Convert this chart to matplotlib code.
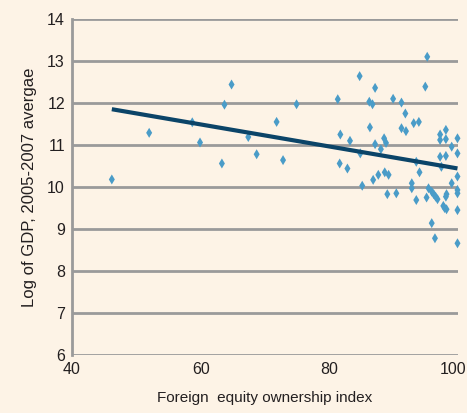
import numpy as np
import matplotlib.pyplot as plt
import matplotlib.transforms as mtransforms

# Foreign equity ownership index vs log GDP
ownership = [46.2, 52.0, 58.7, 59.9, 63.3, 63.7, 64.8, 67.4, 68.7,
             71.8, 72.8, 74.9, 81.3, 81.7, 81.6, 82.8, 83.2, 84.7, 84.8, 85.1,
             86.2, 86.7, 87.1, 86.3, 87.1, 88.0, 88.5, 88.8, 86.8, 87.6,
             88.6, 89.2, 89.0, 90.4, 89.9, 91.2, 91.8, 91.2, 91.9, 93.1,
             93.9, 94.9, 95.2, 93.5, 94.0, 92.8, 92.8, 93.5, 95.1, 95.4,
             95.9, 96.2, 96.5, 96.8, 97.2, 97.2, 97.2, 98.1, 98.1, 98.1,
             97.4, 99.0, 99.9, 99.9, 99.9, 99.0, 99.9, 99.9, 98.2, 98.1,
             97.7, 97.9, 95.9, 96.4, 99.9, 99.9, 98.2]
log_gdp = [10.18, 11.29, 11.54, 11.06, 10.56, 11.96, 12.44, 11.19, 10.78,
           11.55, 10.64, 11.97, 12.09, 11.25, 10.56, 10.44, 11.10, 12.64, 10.80, 10.03,
           12.03, 11.97, 12.36, 11.42, 11.02, 10.90, 11.16, 11.05, 10.17, 10.29,
           10.35, 10.29, 9.83, 9.85, 12.10, 12.01, 11.75, 11.40, 11.33, 11.52,
           11.55, 12.39, 13.10, 10.60, 10.35, 10.09, 9.97, 9.69, 9.75, 9.97,
           9.89, 9.83, 9.77, 9.71, 11.25, 11.12, 10.72, 11.36, 11.14, 10.74,
           10.48, 10.96, 11.16, 10.80, 10.25, 10.09, 9.93, 9.85, 9.83, 9.77,
           9.55, 9.50, 9.14, 8.78, 9.45, 8.66, 9.47]

x_ticks = [40, 60, 80, 100]
y_ticks = [6, 7, 8, 9, 10, 11, 12, 13, 14]

plt.rcParams['font.family'] = ['Liberation Sans', 'DejaVu Sans']

bg = '#fdf3e6'
fig = plt.figure(figsize=(4.67, 4.13), dpi=100, facecolor=bg)
ax = fig.add_axes([0.154, 0.1404, 0.827, 0.8136], facecolor=bg)

# grid lines
for yv in y_ticks:
    ax.axhline(yv, color='#9a9a9a', lw=2, zorder=1)

ax.scatter(ownership, log_gdp, marker='d', s=26, color='#4a9cc8',
           edgecolors='none', zorder=3, clip_on=False)

# regression line
coef = np.polyfit(ownership, log_gdp, 1)
fx = np.array([min(ownership), max(ownership)])
ax.plot(fx, np.polyval(coef, fx), color='#0b4468', lw=3, zorder=4,
        solid_capstyle='butt')

ax.set_xlim(40, 100)
ax.set_ylim(6, 14)
ax.set_xticks(x_ticks)
ax.set_yticks(y_ticks)
ax.tick_params(length=0, labelsize=11.5, pad=5, labelcolor='#231f20')
for s in ['top', 'right', 'bottom']:
    ax.spines[s].set_visible(False)
ax.spines['left'].set_color('#9a9a9a')
ax.spines['left'].set_linewidth(2)

# keep the last x label inside the figure
last = ax.get_xticklabels()[-1]
last.set_horizontalalignment('right')
last.set_transform(last.get_transform() +
                   mtransforms.ScaledTranslation(8 / 100, 0, fig.dpi_scale_trans))

ax.set_xlabel('Foreign  equity ownership index', fontsize=11, labelpad=10,
              color='#231f20')
ax.set_ylabel('Log of GDP, 2005-2007 avergae', fontsize=12, labelpad=7,
              color='#231f20')

fig.savefig('out.png', dpi=100, facecolor=bg)
